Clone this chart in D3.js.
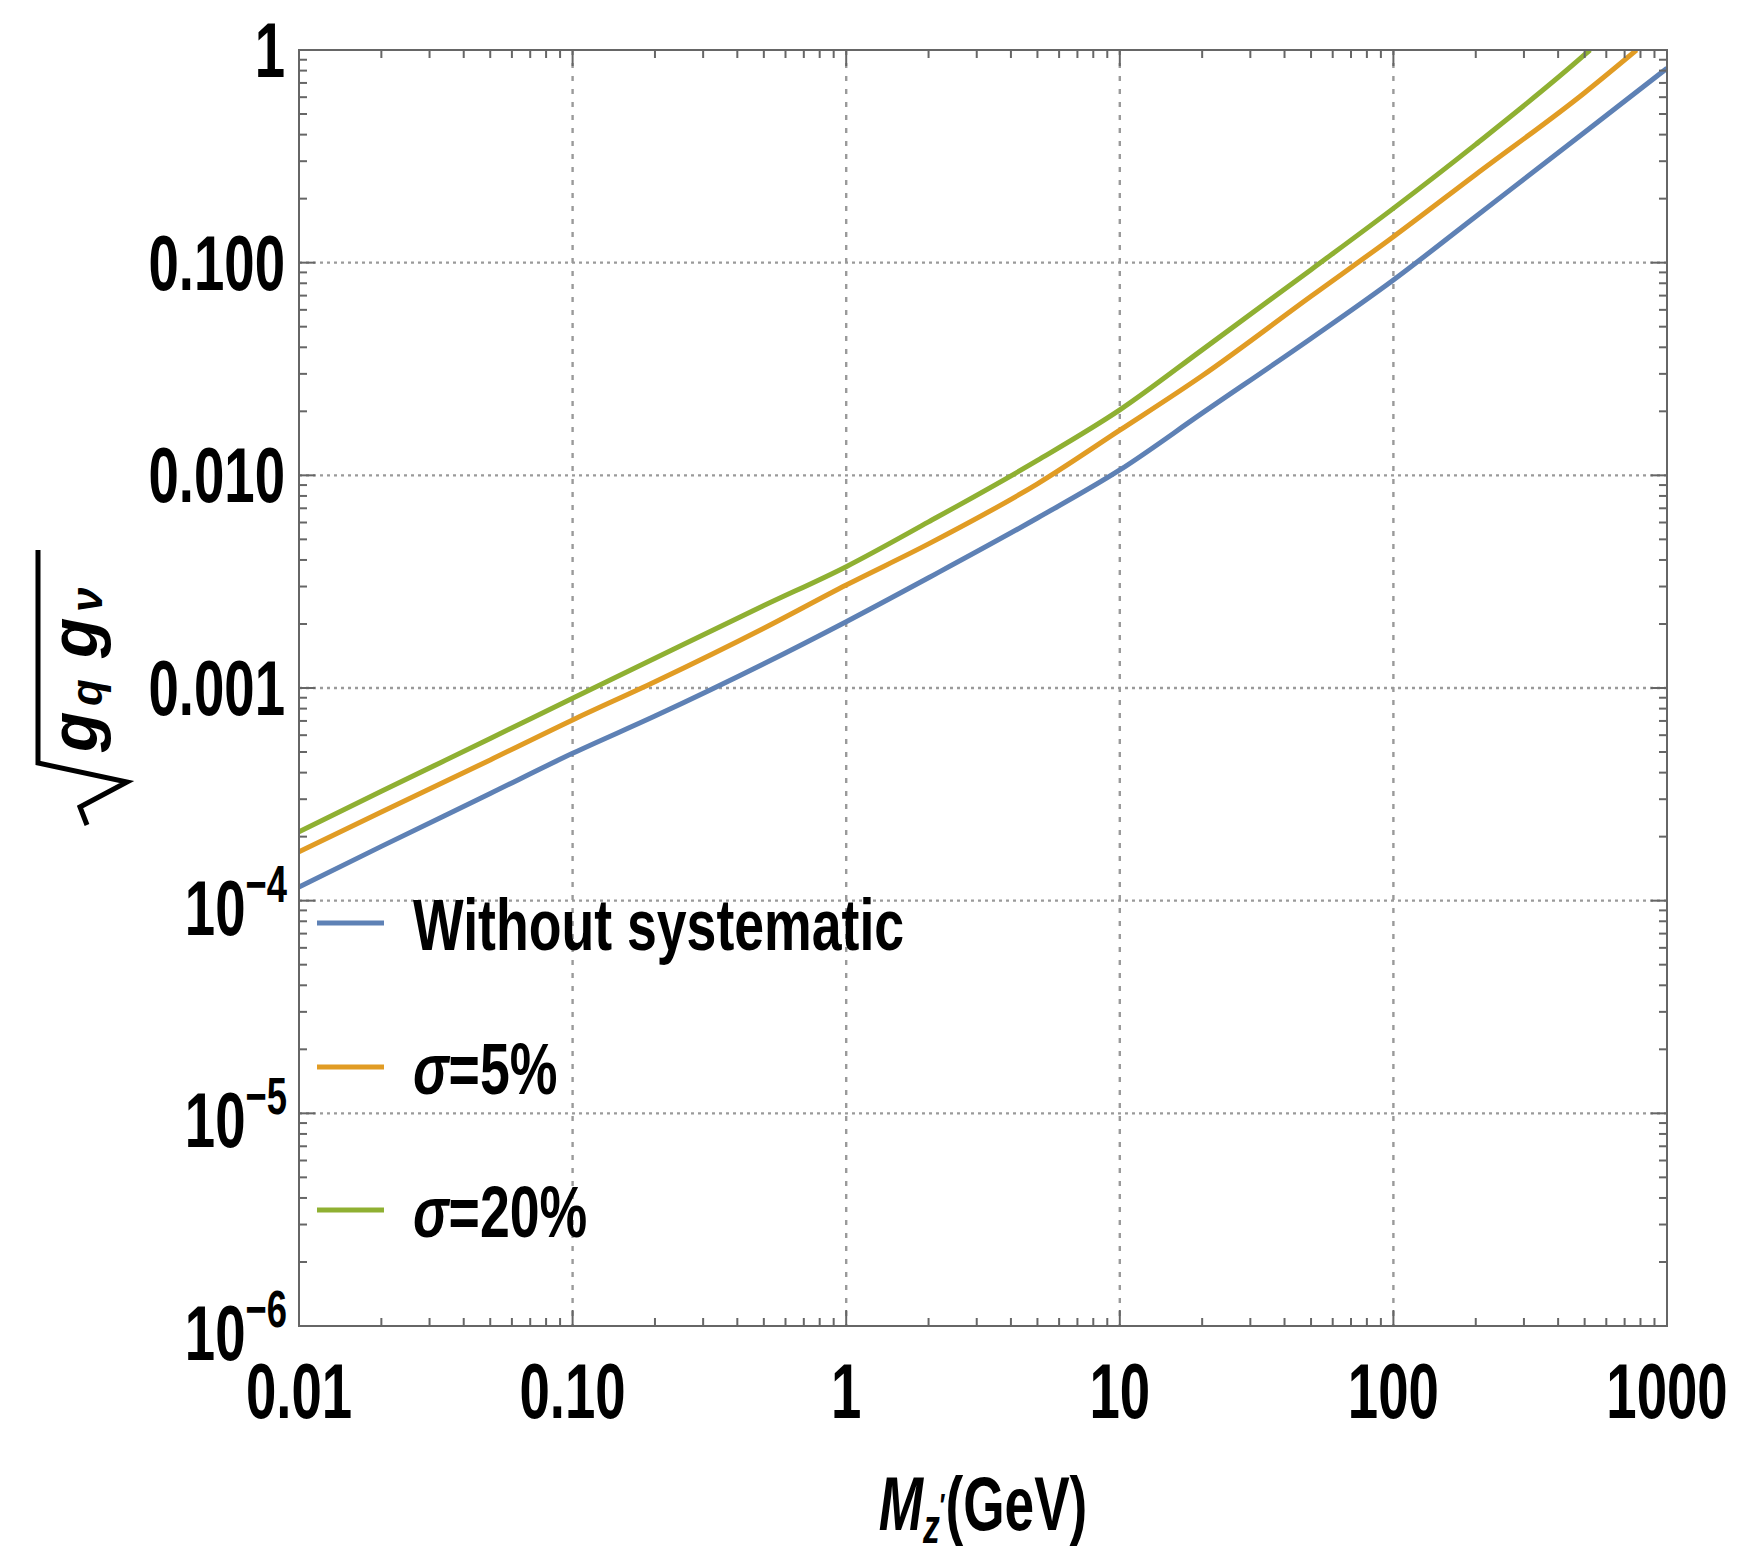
<!DOCTYPE html>
<html>
<head>
<meta charset="utf-8">
<script src="https://cdn.jsdelivr.net/npm/d3@7"></script>
<style>
    body { margin: 0; background: #fff; }
    svg { display: block; }
    text { font-family: "Liberation Sans", Arial, sans-serif; font-weight: bold; fill: #000; }
</style>
</head>
<body>
<div id="chart"></div>
<script>
// Z' mass points (GeV)
var masses = [0.01, 0.02, 0.05, 0.1, 0.2, 0.5, 1, 2, 5, 10, 20, 50, 100, 200, 500, 1000];
var massSys5 = [0.01, 0.02, 0.05, 0.1, 0.2, 0.5, 1, 2, 5, 10, 20, 50, 100, 200, 500, 774];
var massSys20 = [0.01, 0.02, 0.05, 0.1, 0.2, 0.5, 1, 2, 5, 10, 20, 50, 100, 200, 500, 523];

// sqrt(g_q g_nu) limits
var noSys = [1.16e-4, 1.80e-4, 3.19e-4, 4.93e-4, 7.38e-4, 1.30e-3, 2.05e-3, 3.30e-3, 6.30e-3, 0.0106, 0.0196, 0.0440, 0.0829, 0.165, 0.41, 0.82];
var sys5 = [1.70e-4, 2.61e-4, 4.59e-4, 7.08e-4, 1.07e-3, 1.91e-3, 3.05e-3, 4.76e-3, 9.12e-3, 0.0163, 0.0294, 0.0695, 0.1325, 0.26, 0.63, 1.0];
var sys20 = [2.11e-4, 3.27e-4, 5.79e-4, 8.95e-4, 1.38e-3, 2.44e-3, 3.72e-3, 6.04e-3, 0.01175, 0.0203, 0.0389, 0.0927, 0.180, 0.36, 0.95, 1.0];

var seriesNames = ["Without systematic", "\u03c3=5%", "\u03c3=20%"];
var seriesColors = ["#5e81b5", "#e19c24", "#8fb032"];

// tick labels
var xTickValues = [0.01, 0.1, 1, 10, 100, 1000];
var xTickText = ["0.01", "0.10", "1", "10", "100", "1000"];
var yTickValues = [1, 0.1, 0.01, 0.001];
var yTickText = ["1", "0.100", "0.010", "0.001"];
var yPowValues = [1e-4, 1e-5, 1e-6];
var yPowExp = ["\u22124", "\u22125", "\u22126"];

var chart = {};

(function (self) {
    var W = 1737, H = 1557;
    var m = {left: 299, right: 1667, top: 50, bottom: 1326};
    var sx = 0.7; // narrow bold look of the original labels

    self.draw = function (target) {
        var svg = d3.select(target).append("svg")
            .attr("width", W).attr("height", H);

        var x = d3.scaleLog().domain([0.01, 1000]).range([m.left, m.right]);
        var y = d3.scaleLog().domain([1e-6, 1]).range([m.bottom, m.top]);

        svg.append("clipPath").attr("id", "plotClip")
            .append("rect")
            .attr("x", m.left).attr("y", m.top)
            .attr("width", m.right - m.left).attr("height", m.bottom - m.top);

        // grid lines (inner decades only)
        var grid = svg.append("g").attr("stroke", "#9a9a9a").attr("stroke-width", 2.4);
        grid.selectAll(".vg").data(xTickValues.slice(1, -1)).enter().append("line")
            .attr("x1", d => x(d)).attr("x2", d => x(d))
            .attr("y1", m.top).attr("y2", m.bottom)
            .attr("stroke-dasharray", "5,8");
        grid.selectAll(".hg").data(yTickValues.slice(1).concat(yPowValues.slice(0, -1))).enter().append("line")
            .attr("x1", m.left).attr("x2", m.right)
            .attr("y1", d => y(d)).attr("y2", d => y(d))
            .attr("stroke-dasharray", "3,4");

        // curves
        var line = d3.line()
            .x(d => x(d[0]))
            .y(d => y(d[1]))
            .curve(d3.curveMonotoneX);
        var series = [
            d3.zip(masses, noSys),
            d3.zip(massSys5, sys5),
            d3.zip(massSys20, sys20)
        ];
        svg.append("g").attr("clip-path", "url(#plotClip)")
            .selectAll("path").data(series).enter().append("path")
            .attr("d", line)
            .attr("fill", "none")
            .attr("stroke", (d, i) => seriesColors[i])
            .attr("stroke-width", 5)
            .attr("stroke-linejoin", "round");

        self.frame(svg, x, y);
        self.labels(svg, x, y);
        self.legend(svg);
        self.titles(svg);
    };

    // frame with inward ticks on all four sides
    self.frame = function (svg, x, y) {
        var f = svg.append("g").attr("stroke", "#666").attr("stroke-width", 2);
        var isMajor = v => Math.abs(Math.log10(v) - Math.round(Math.log10(v))) < 1e-6;
        var xt = x.ticks(), yt = y.ticks();

        xt.forEach(v => {
            var len = isMajor(v) ? 16 : 8;
            f.append("line").attr("x1", x(v)).attr("x2", x(v))
                .attr("y1", m.bottom).attr("y2", m.bottom - len);
            f.append("line").attr("x1", x(v)).attr("x2", x(v))
                .attr("y1", m.top).attr("y2", m.top + len);
        });
        yt.forEach(v => {
            var len = isMajor(v) ? 16 : 8;
            f.append("line").attr("x1", m.left).attr("x2", m.left + len)
                .attr("y1", y(v)).attr("y2", y(v));
            f.append("line").attr("x1", m.right).attr("x2", m.right - len)
                .attr("y1", y(v)).attr("y2", y(v));
        });

        f.append("rect")
            .attr("x", m.left).attr("y", m.top)
            .attr("width", m.right - m.left).attr("height", m.bottom - m.top)
            .attr("fill", "none");
    };

    self.labels = function (svg, x, y) {
        var g = svg.append("g").attr("font-size", 78);

        xTickValues.forEach((v, i) => {
            g.append("text")
                .attr("transform", "translate(" + x(v) + ",1418) scale(" + sx + ",1)")
                .attr("text-anchor", "middle")
                .text(xTickText[i]);
        });

        yTickValues.forEach((v, i) => {
            g.append("text")
                .attr("transform", "translate(285," + (y(v) + 27) + ") scale(" + sx + ",1)")
                .attr("text-anchor", "end")
                .text(yTickText[i]);
        });

        yPowValues.forEach((v, i) => {
            var t = g.append("text")
                .attr("transform", "translate(287," + (y(v) + 34) + ") scale(" + sx + ",1)")
                .attr("text-anchor", "end");
            t.append("tspan").text("10");
            t.append("tspan").attr("font-size", 52).attr("dy", -33).text(yPowExp[i]);
        });
    };

    self.legend = function (svg) {
        var lg = svg.append("g");
        var rowY = [923, 1067, 1210];
        seriesNames.forEach((name, i) => {
            lg.append("line")
                .attr("x1", 317).attr("x2", 384)
                .attr("y1", rowY[i]).attr("y2", rowY[i])
                .attr("stroke", seriesColors[i]).attr("stroke-width", 5);
            var t = lg.append("text")
                .attr("transform", "translate(413," + (rowY[i] + 27) + ") scale(0.745,1)")
                .attr("font-size", 72);
            if (i === 0) {
                t.text(name);
            } else {
                t.append("tspan").attr("font-style", "italic").text(name.charAt(0));
                t.append("tspan").text(name.slice(1));
            }
        });
    };

    self.titles = function (svg) {
        // x axis title  M_z'(GeV)
        var xt = svg.append("text")
            .attr("transform", "translate(983,1530) scale(" + sx + ",1)")
            .attr("text-anchor", "middle")
            .attr("font-size", 76);
        xt.append("tspan").attr("font-style", "italic").text("M");
        xt.append("tspan").attr("font-size", 48).attr("font-style", "italic").attr("dy", 13).text("z");
        xt.append("tspan").attr("font-size", 34).attr("dy", -26).text("\u2032");
        xt.append("tspan").attr("dy", 13).text("(GeV)");

        // y axis title  sqrt(g_q g_nu), rotated
        var yt = svg.append("g").attr("transform", "translate(80,690) rotate(-90)");
        yt.append("path")
            .attr("d", "M-135,7 L-117,0 L-92,47 L-73,-42 L140,-42")
            .attr("fill", "none")
            .attr("stroke", "#000")
            .attr("stroke-width", 5)
            .attr("stroke-linejoin", "miter");
        var lab = yt.append("text")
            .attr("y", 17)
            .attr("font-size", 66)
            .attr("font-style", "italic");
        lab.append("tspan").attr("x", -62).text("g");
        lab.append("tspan").attr("x", -16).attr("font-size", 44).attr("dy", 5).text("q");
        lab.append("tspan").attr("x", 32).attr("dy", -5).text("g");
        lab.append("tspan").attr("x", 78).attr("font-size", 44).attr("dy", 5).text("\u03bd");
    };
})(chart);

chart.draw("#chart");
</script>
</body>
</html>
